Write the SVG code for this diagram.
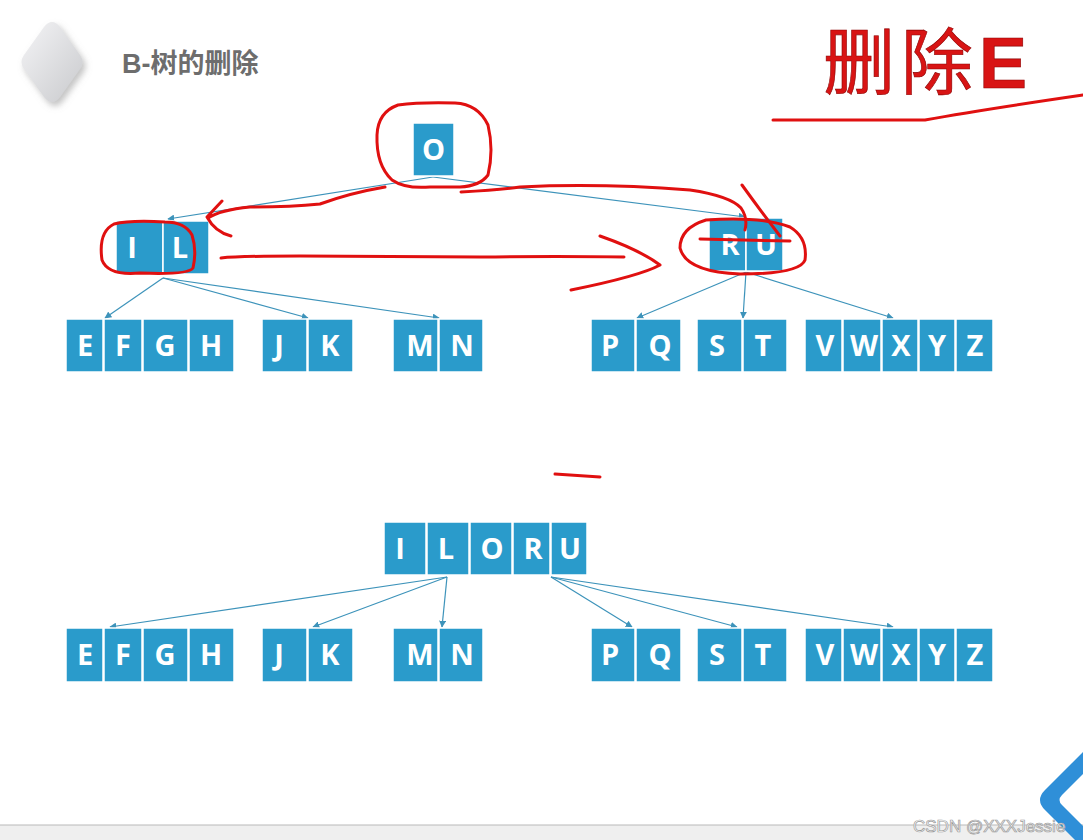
<svg xmlns="http://www.w3.org/2000/svg" width="1083" height="840" viewBox="0 0 1083 840">
<style>
.k{fill:#2A9BCB;stroke:#ffffff;stroke-width:1.5}
.t{fill:#ffffff;font-family:"Open Sans","Liberation Sans",sans-serif;font-weight:700;font-size:29px;text-anchor:middle}
.c{stroke:#3D93BA;stroke-width:1.2;fill:none;marker-end:url(#ar)}
.r{stroke:#E01010;stroke-width:3;fill:none;stroke-linecap:round;stroke-linejoin:round}
</style>
<defs>
<marker id="ar" viewBox="0 0 10 10" refX="9" refY="5" markerWidth="7" markerHeight="7" orient="auto" markerUnits="userSpaceOnUse">
<path d="M0,0 L10,5 L0,10 z" fill="#3D93BA"/>
</marker>
<linearGradient id="dg" x1="0" y1="0" x2="1" y2="1">
<stop offset="0" stop-color="#f4f4f6"/><stop offset="1" stop-color="#c9cacd"/>
</linearGradient>
<filter id="sh" x="-30%" y="-30%" width="160%" height="160%"><feDropShadow dx="3" dy="4" stdDeviation="3" flood-color="#888" flood-opacity="0.5"/></filter>
</defs>
<rect width="1083" height="840" fill="#ffffff"/>
<g id="header">
<path d="M44,27 Q52,17 60,27 L80,55 Q85,62 80,69 L60,97 Q52,107 44,97 L24,69 Q19,62 24,55 Z" fill="url(#dg)" filter="url(#sh)"/>
<text x="122" y="73" font-family="'Liberation Sans','Noto Sans CJK SC',sans-serif" font-weight="700" font-size="27" fill="#6d6d6d">B-树的删除</text>
<text x="823" y="88" font-family="'Noto Sans CJK SC','Liberation Sans',sans-serif" font-size="72" letter-spacing="6" fill="#D81414" stroke="#8a0000" stroke-width="0.6">删除<tspan font-family="'Liberation Sans',sans-serif" font-weight="700">E</tspan></text>
</g>
<g id="connectors">
<path class="c" d="M433,177 L168,219"/>
<path class="c" d="M433,177 L745,217"/>
<path class="c" d="M163,278 L105,318"/>
<path class="c" d="M163,278 L308,318"/>
<path class="c" d="M163,278 L439,318"/>
<path class="c" d="M746,272 L637,318"/>
<path class="c" d="M746,272 L743,318"/>
<path class="c" d="M746,272 L893,318"/>
<path class="c" d="M447,577 L110,627"/>
<path class="c" d="M447,577 L313,627"/>
<path class="c" d="M447,577 L442,627"/>
<path class="c" d="M551,577 L632,627"/>
<path class="c" d="M551,577 L737,627"/>
<path class="c" d="M551,577 L893,627"/>
</g>
<g id="node-O">
<rect class="k" x="413" y="123" width="41" height="53"/><text class="t" x="433.5" y="160">O</text>
</g>
<g id="node-IL">
<rect class="k" x="116" y="221" width="47" height="53"/><text class="t" x="132" y="258">I</text>
<rect class="k" x="163" y="221" width="46" height="53"/><text class="t" x="180" y="258">L</text>
</g>
<g id="node-RU">
<rect class="k" x="709" y="218" width="37" height="53"/><text class="t" x="730" y="255">R</text>
<rect class="k" x="746" y="218" width="37" height="53"/><text class="t" x="766" y="255">U</text>
</g>
<g id="leaf-EFGH-top">
<rect class="k" x="66" y="319" width="37" height="53"/><text class="t" x="85" y="356">E</text>
<rect class="k" x="104" y="319" width="38" height="53"/><text class="t" x="123" y="356">F</text>
<rect class="k" x="143" y="319" width="45" height="53"/><text class="t" x="165" y="356">G</text>
<rect class="k" x="189" y="319" width="45" height="53"/><text class="t" x="211" y="356">H</text>
</g>
<g id="leaf-JK-top">
<rect class="k" x="262" y="319" width="45" height="53"/><text class="t" x="279" y="356">J</text>
<rect class="k" x="308" y="319" width="45" height="53"/><text class="t" x="330" y="356">K</text>
</g>
<g id="leaf-MN-top">
<rect class="k" x="393" y="319" width="45" height="53"/><text class="t" x="420" y="356">M</text>
<rect class="k" x="439" y="319" width="44" height="53"/><text class="t" x="462" y="356">N</text>
</g>
<g id="leaf-PQ-top">
<rect class="k" x="591" y="319" width="44" height="53"/><text class="t" x="610" y="356">P</text>
<rect class="k" x="636" y="319" width="45" height="53"/><text class="t" x="660" y="356">Q</text>
</g>
<g id="leaf-ST-top">
<rect class="k" x="697" y="319" width="45" height="53"/><text class="t" x="717" y="356">S</text>
<rect class="k" x="743" y="319" width="44" height="53"/><text class="t" x="763" y="356">T</text>
</g>
<g id="leaf-VWXYZ-top">
<rect class="k" x="805" y="319" width="37" height="53"/><text class="t" x="825" y="356">V</text>
<rect class="k" x="843" y="319" width="38" height="53"/><text class="t" x="864" y="356">W</text>
<rect class="k" x="882" y="319" width="36" height="53"/><text class="t" x="901" y="356">X</text>
<rect class="k" x="919" y="319" width="36" height="53"/><text class="t" x="937" y="356">Y</text>
<rect class="k" x="956" y="319" width="37" height="53"/><text class="t" x="975" y="356">Z</text>
</g>
<g id="node-ILORU">
<rect class="k" x="384" y="522" width="42" height="53"/><text class="t" x="400" y="559">I</text>
<rect class="k" x="427" y="522" width="42" height="53"/><text class="t" x="446" y="559">L</text>
<rect class="k" x="470" y="522" width="42" height="53"/><text class="t" x="492" y="559">O</text>
<rect class="k" x="513" y="522" width="37" height="53"/><text class="t" x="533" y="559">R</text>
<rect class="k" x="551" y="522" width="36" height="53"/><text class="t" x="570" y="559">U</text>
</g>
<g id="leaf-EFGH-bot">
<rect class="k" x="66" y="628" width="37" height="54"/><text class="t" x="85" y="665">E</text>
<rect class="k" x="104" y="628" width="38" height="54"/><text class="t" x="123" y="665">F</text>
<rect class="k" x="143" y="628" width="45" height="54"/><text class="t" x="165" y="665">G</text>
<rect class="k" x="189" y="628" width="45" height="54"/><text class="t" x="211" y="665">H</text>
</g>
<g id="leaf-JK-bot">
<rect class="k" x="262" y="628" width="45" height="54"/><text class="t" x="279" y="665">J</text>
<rect class="k" x="308" y="628" width="45" height="54"/><text class="t" x="330" y="665">K</text>
</g>
<g id="leaf-MN-bot">
<rect class="k" x="393" y="628" width="45" height="54"/><text class="t" x="420" y="665">M</text>
<rect class="k" x="439" y="628" width="44" height="54"/><text class="t" x="462" y="665">N</text>
</g>
<g id="leaf-PQ-bot">
<rect class="k" x="591" y="628" width="44" height="54"/><text class="t" x="610" y="665">P</text>
<rect class="k" x="636" y="628" width="45" height="54"/><text class="t" x="660" y="665">Q</text>
</g>
<g id="leaf-ST-bot">
<rect class="k" x="697" y="628" width="45" height="54"/><text class="t" x="717" y="665">S</text>
<rect class="k" x="743" y="628" width="44" height="54"/><text class="t" x="763" y="665">T</text>
</g>
<g id="leaf-VWXYZ-bot">
<rect class="k" x="805" y="628" width="37" height="54"/><text class="t" x="825" y="665">V</text>
<rect class="k" x="843" y="628" width="38" height="54"/><text class="t" x="864" y="665">W</text>
<rect class="k" x="882" y="628" width="36" height="54"/><text class="t" x="901" y="665">X</text>
<rect class="k" x="919" y="628" width="36" height="54"/><text class="t" x="937" y="665">Y</text>
<rect class="k" x="956" y="628" width="37" height="54"/><text class="t" x="975" y="665">Z</text>
</g>
<g id="annotations">
<path class="r" d="M398,105 Q378,112 377,135 Q376,165 392,180 Q405,189 430,187 L460,187 Q480,186 488,175 Q494,150 488,125 Q478,104 455,103 Q420,102 398,105 Z"/>
<path class="r" d="M385,187 Q350,193 320,204 Q290,207 250,207 Q220,210 208,218 M222,201 L207,217 Q215,232 231,236"/>
<path class="r" d="M114,224 Q98,232 102,260 Q108,276 140,273 Q188,275 193,268 Q197,250 192,235 Q185,222 165,222 Q130,220 114,224 Z"/>
<path class="r" d="M221,258 Q240,256 300,256 L480,257 Q560,256 624,257 M600,236 Q640,250 660,265 Q640,276 571,290"/>
<path class="r" d="M461,192 Q500,190 520,187 Q600,183 690,190 Q730,196 741,208 Q748,218 745,230"/>
<path class="r" d="M742,185 Q760,210 780,236"/>
<path class="r" d="M700,239 L790,241"/>
<path class="r" d="M706,220 Q680,228 680,248 Q686,272 740,274 Q800,274 805,260 Q808,238 790,227 Q760,216 706,220 Z"/>
<path class="r" d="M773,120 L925,120 Q980,110 1083,95"/>
<path class="r" d="M555,474 L600,477"/>
</g>
<g id="footer">
<rect x="0" y="825" width="1083" height="15" fill="#efefef"/>
<line x1="0" y1="825" x2="1083" y2="825" stroke="#b9b9b9" stroke-width="1"/>
<path d="M1083,752 L1045,790 Q1035,800 1045,810 L1075,840 L1083,840 L1083,826 L1062,805 Q1057,800 1062,795 L1083,774 Z" fill="#2F8FD8"/>
<text x="913" y="832" font-family="'Liberation Sans',sans-serif" font-size="17" fill="#ffffff" stroke="#9a9a9a" stroke-width="0.7">CSDN @XXXJessie</text>
</g>
</svg>
